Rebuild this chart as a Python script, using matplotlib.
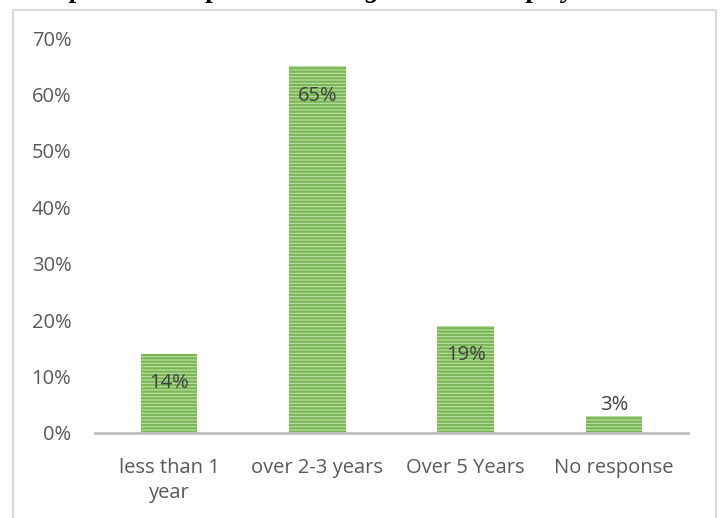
import matplotlib
matplotlib.use('Agg')

import matplotlib.pyplot as plt
from matplotlib.patches import Rectangle

categories = ['less than 1\nyear', 'over 2-3 years', 'Over 5 Years', 'No response']
values = [0.14, 0.65, 0.19, 0.03]
labels = ['14%', '65%', '19%', '3%']
yticks = [0, 0.1, 0.2, 0.3, 0.4, 0.5, 0.6, 0.7]
title = 'Respondents experience in organisation employment'

plt.rcParams['font.family'] = ['Open Sans', 'DejaVu Sans']
plt.rcParams['hatch.linewidth'] = 1.6

fig = plt.figure(figsize=(7.21, 5.18), dpi=100)

# outer chart frame (light gray border)
fig.patches.append(Rectangle((13 / 721, -0.02), (716 - 13) / 721, 1.0 - 10 / 518 + 0.02,
                             transform=fig.transFigure, fill=False,
                             edgecolor='#d9d9d9', linewidth=1.5))

# title cut off by the top edge, only descenders show
fig.text(0.04, 1.0 + 3 / 518, title, family='Liberation Serif', fontsize=20,
         fontweight='bold', fontstyle='italic', va='baseline', ha='left')

ax = fig.add_axes([95 / 721, 1 - 433 / 518, (688 - 95) / 721, (433 - 38) / 518])

x = range(len(categories))
bars = ax.bar(x, values, width=0.38, color='#bfe0a8', edgecolor='#78b654',
              hatch='-----', linewidth=0)

for i, (v, lab) in enumerate(zip(values, labels)):
    if v > 0.08:
        ax.text(i, v - 0.052, lab, ha='center', va='center', fontsize=14.5, color='#404040')
    else:
        ax.text(i, v + 0.02, lab, ha='center', va='center', fontsize=14.5, color='#404040')

ax.set_xlim(-0.5, len(categories) - 0.5)
ax.set_ylim(0, 0.7)
ax.set_yticks(yticks)
ax.set_yticklabels([f'{int(round(t * 100))}%' for t in yticks])
ax.set_xticks(list(x))
ax.set_xticklabels(categories, linespacing=1.35)

for s in ['top', 'right', 'left']:
    ax.spines[s].set_visible(False)
ax.spines['bottom'].set_color('#bfbfbf')
ax.spines['bottom'].set_linewidth(2)

ax.tick_params(axis='both', length=0, labelsize=14.5, labelcolor='#595959')
ax.tick_params(axis='y', pad=17)
ax.tick_params(axis='x', pad=18)

plt.savefig('out.png', dpi=100)
